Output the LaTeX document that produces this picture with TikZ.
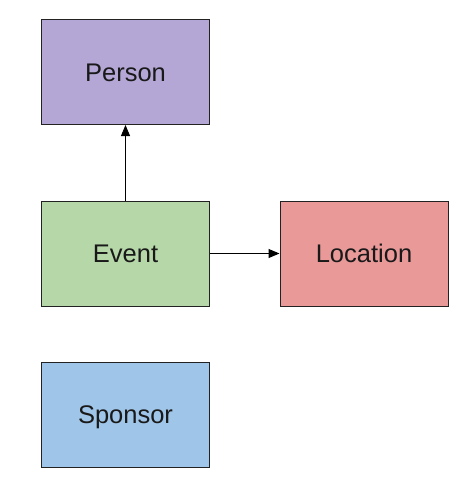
\documentclass[tikz,border=0pt]{standalone}
\usepackage{fontspec}
\setmainfont{Liberation Sans}
\usetikzlibrary{arrows.meta}
\definecolor{cperson}{HTML}{B4A7D6}
\definecolor{cevent}{HTML}{B6D7A8}
\definecolor{cloc}{HTML}{EA9999}
\definecolor{cspon}{HTML}{9FC5E8}
\definecolor{edge}{HTML}{222222}
\begin{document}
\begin{tikzpicture}[x=1pt,y=-1pt,
  box/.style={draw=edge,line width=1pt,minimum width=168pt,minimum height=105pt,inner sep=0pt,
    text height=18pt,text depth=0pt,
    font=\fontsize{25.5}{28}\selectfont,text=black!90},
  conn/.style={draw=black,line width=1pt,-{Triangle[length=11pt,width=9pt]}}]
\useasboundingbox (0,0) rectangle (474,498);
\node[box,fill=cperson] (person) at (125.5,72) {Person};
\node[box,fill=cevent] (event) at (125.5,253.5) {Event};
\node[box,fill=cloc] (location) at (364,253.5) {Location};
\node[box,fill=cspon] (sponsor) at (125.5,414.5) {Sponsor};
\draw[conn] (event) -- (person);
\draw[conn] (event) -- (location);
\end{tikzpicture}
\end{document}
